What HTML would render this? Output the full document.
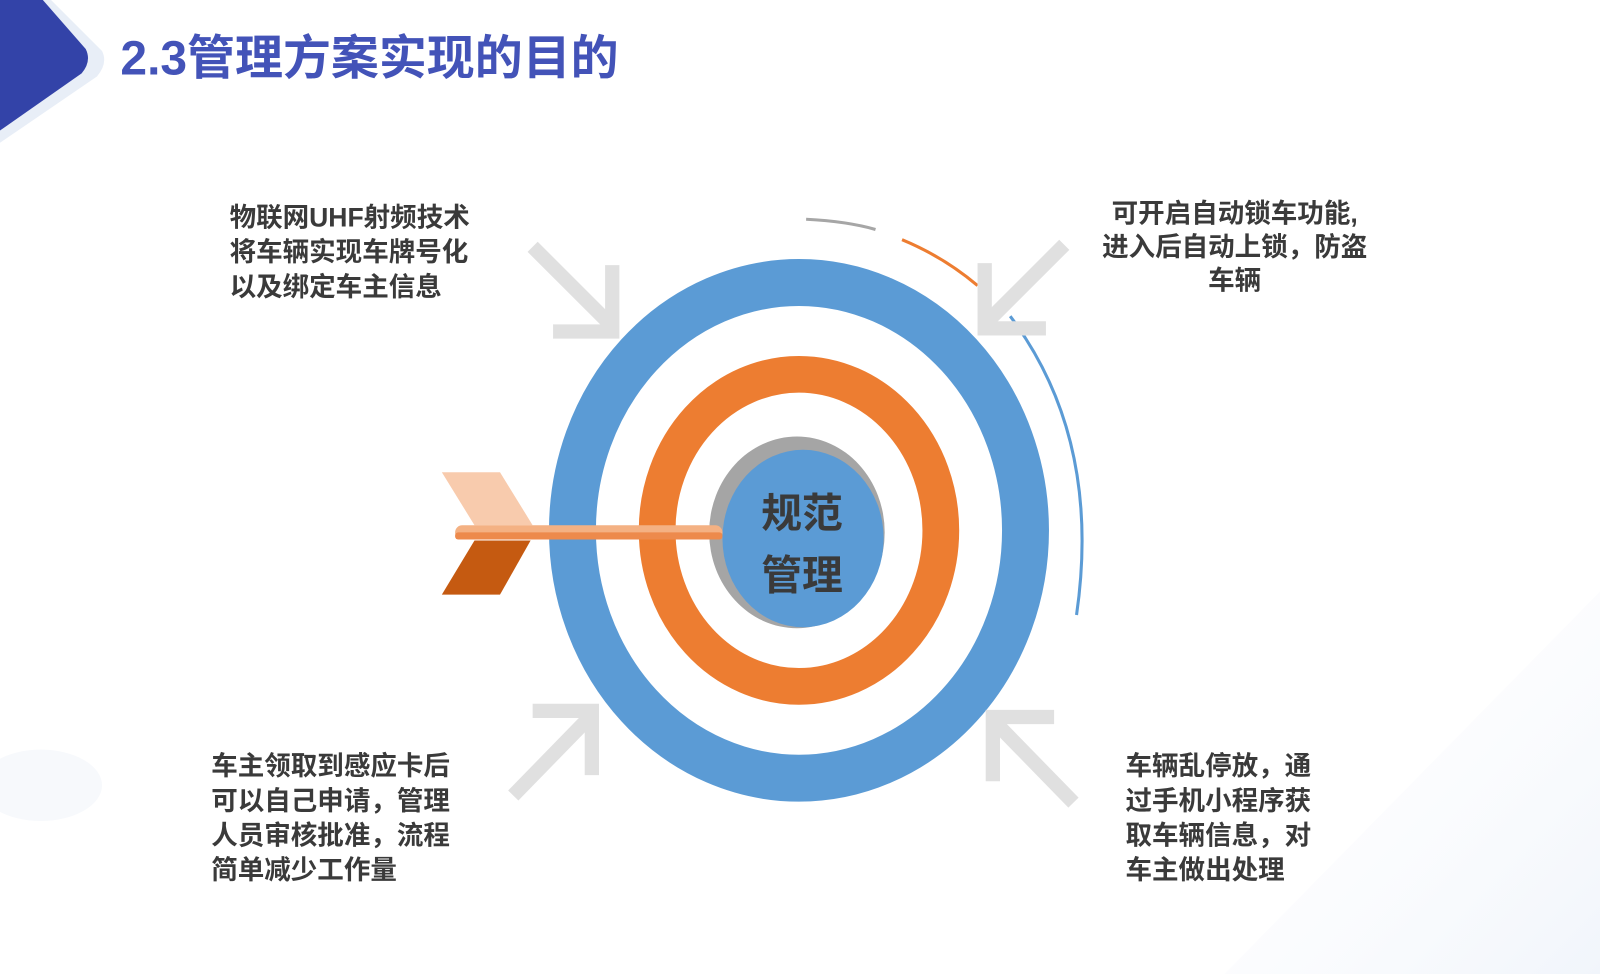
<!DOCTYPE html>
<html><head><meta charset="utf-8"><style>
html,body{margin:0;padding:0;background:#fff;}
svg{display:block;}
text{font-family:"Liberation Sans","Noto Sans CJK SC",sans-serif;font-weight:bold;}
</style></head><body>
<svg width="1600" height="974" viewBox="0 0 1568 955" preserveAspectRatio="none" xmlns="http://www.w3.org/2000/svg">
<defs>
<linearGradient id="bg" x1="0" y1="0" x2="1" y2="1"><stop offset="0" stop-color="#fff" stop-opacity="0"/><stop offset="1" stop-color="#f1f5fb"/></linearGradient>
</defs>
<polygon points="1200,955 1568,580 1568,955" fill="url(#bg)"/>
<ellipse cx="40" cy="770" rx="60" ry="35" fill="#f7f9fc"/>
<!-- top-left triangle -->
<path d="M0,0 L50,0 L100,50 Q106,62 95,75 L0,140 Z" fill="#e8eef7"/>
<path d="M0,0 L42,0 L84,48 Q90,60 80,72 L0,128 Z" fill="#3343a8"/>
<text x="118" y="73" font-size="47" fill="#4353b8">2.3管理方案实现的目的</text>

<!-- arcs -->
<path d="M790,215 Q830,217 858,225" fill="none" stroke="#a6a6a6" stroke-width="3"/>
<path d="M884,235 Q925,252 958,280" fill="none" stroke="#ed7d31" stroke-width="3"/>
<path d="M990,310 Q1080,430 1055,603" fill="none" stroke="#5b9bd5" stroke-width="3"/>

<!-- target -->
<ellipse cx="783" cy="520" rx="222" ry="243" fill="none" stroke="#5b9bd5" stroke-width="46"/>
<ellipse cx="783" cy="520" rx="139" ry="153" fill="none" stroke="#ed7d31" stroke-width="36"/>
<ellipse cx="781" cy="522" rx="86" ry="94" fill="#a5a5a5"/>
<ellipse cx="787" cy="528" rx="79" ry="87" fill="#5b9bd5"/>
<text x="786" y="517" font-size="40" fill="#3a3a3a" text-anchor="middle">规范</text>
<text x="786" y="578" font-size="40" fill="#3a3a3a" text-anchor="middle">管理</text>

<!-- dart -->
<polygon points="433,463 490,463 522,515 465,515" fill="#f8cbad"/>
<polygon points="465,530 520,530 490,583 433,583" fill="#c55a11"/>
<rect x="446" y="515" width="262" height="14" rx="7" fill="#f4b183"/>
<rect x="446" y="522" width="262" height="7" rx="3" fill="#ed8a4c"/>

<!-- arrows -->
<g stroke="#e0e0e0" stroke-width="14" fill="none" stroke-linecap="butt">
<path d="M522,242 L600,320"/><path d="M600,260 L600,325 L542,325"/>
<path d="M1043,240 L965,318"/><path d="M965,258 L965,322 L1025,322"/>
<path d="M503,780 L578,703"/><path d="M522,697 L580,697 L580,760"/>
<path d="M1052,787 L977,710"/><path d="M1033,703 L973,703 L973,766"/>
</g>

<g font-size="26" fill="#3a3a3a">
<text x="225" y="222">物联网UHF射频技术</text>
<text x="225" y="256">将车辆实现车牌号化</text>
<text x="225" y="290">以及绑定车主信息</text>
<text x="1210" y="218" text-anchor="middle">可开启自动锁车功能,</text>
<text x="1210" y="251" text-anchor="middle">进入后自动上锁，防盗</text>
<text x="1210" y="284" text-anchor="middle">车辆</text>
<text x="207" y="760">车主领取到感应卡后</text>
<text x="207" y="794">可以自己申请，管理</text>
<text x="207" y="828">人员审核批准，流程</text>
<text x="207" y="862">简单减少工作量</text>
<text x="1103" y="760">车辆乱停放，通</text>
<text x="1103" y="794">过手机小程序获</text>
<text x="1103" y="828">取车辆信息，对</text>
<text x="1103" y="862">车主做出处理</text>
</g>
</svg>
</body></html>
